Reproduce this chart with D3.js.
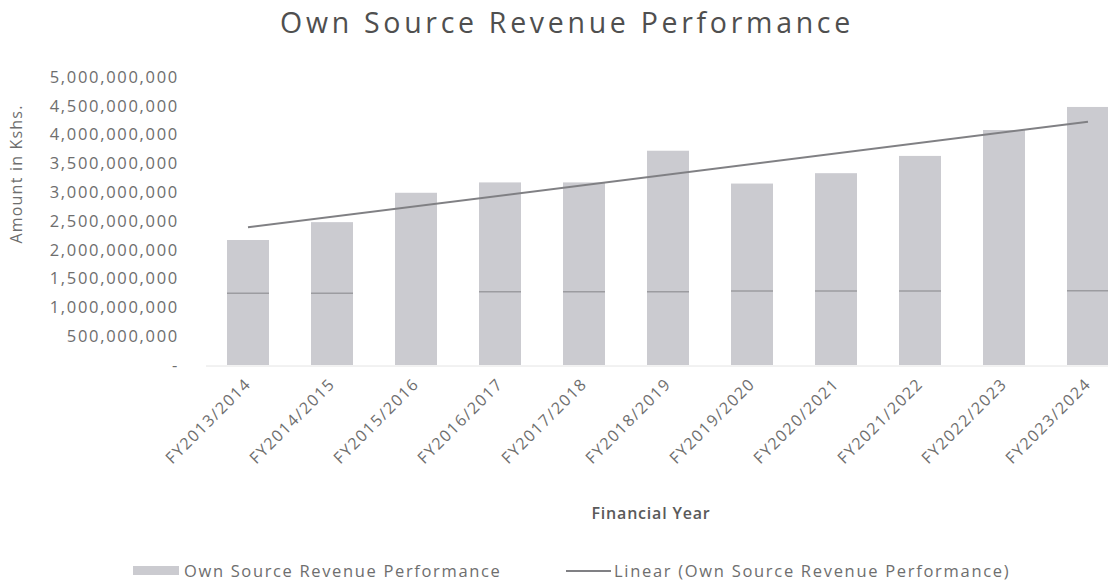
<!DOCTYPE html>
<html>
<head>
<meta charset="utf-8">
<script src="https://cdn.jsdelivr.net/npm/d3@7"></script>
<style>
  html, body { margin: 0; padding: 0; background: #fff; }
  svg { display: block; font-family: "Open Sans", "Noto Sans", sans-serif; }
</style>
</head>
<body>
<svg id="chart" width="1108" height="581"></svg>
<script>
// ---- Data ----
const categories = ["FY2013/2014","FY2014/2015","FY2015/2016","FY2016/2017","FY2017/2018",
  "FY2018/2019","FY2019/2020","FY2020/2021","FY2021/2022","FY2022/2023","FY2023/2024"];
const revenue = [2170000000, 2480000000, 2990000000, 3170000000, 3170000000,
  3720000000, 3150000000, 3330000000, 3630000000, 4080000000, 4480000000];
// faint horizontal marks visible inside most bars of the scanned original
const innerMarks = [1245000000, 1245000000, null, 1270000000, 1270000000,
  1270000000, 1285000000, 1285000000, 1285000000, null, 1290000000];
const yTicks = [0, 500000000, 1000000000, 1500000000, 2000000000, 2500000000,
  3000000000, 3500000000, 4000000000, 4500000000, 5000000000];
const titleText = "Own Source Revenue Performance";
const yTitle = "Amount in Kshs.";
const xTitle = "Financial Year";
const legendBar = "Own Source Revenue Performance";
const legendLine = "Linear (Own Source Revenue Performance)";

// ---- Layout ----
const svg = d3.select("#chart");
const plotTop = 77, plotBottom = 365;
const x = d3.scaleBand().domain(categories).range([206, 1130]).paddingInner(0.5).paddingOuter(0.25);
const y = d3.scaleLinear().domain([0, 5000000000]).range([plotBottom, plotTop]);

const textColor = "#6e6e6e";
const barColor = "#cbcbd0";

// Title
svg.append("text").attr("x", 567).attr("y", 33).attr("text-anchor", "middle")
  .attr("font-size", 28.5).attr("letter-spacing", 3.7).attr("fill", "#4f4f4f").text(titleText);

// Y axis
const fmt = d => d === 0 ? "-" : d3.format(",")(d);
const yAxis = d3.axisLeft(y).tickValues(yTicks).tickFormat(fmt).tickSize(0).tickPadding(0);
const gy = svg.append("g").attr("transform", "translate(179,0)").call(yAxis);
gy.select(".domain").remove();
gy.selectAll("text").attr("font-size", 16.5).attr("letter-spacing", 1.7)
  .attr("fill", textColor).attr("font-family", "'Open Sans', sans-serif");

// Y title
svg.append("text").attr("transform", "translate(22,174) rotate(-90)").attr("text-anchor", "middle")
  .attr("font-size", 16).attr("letter-spacing", 1.2).attr("fill", textColor).text(yTitle);

// Axis baseline (faint)
svg.append("line").attr("x1", 206).attr("x2", 1108).attr("y1", y(0) + 1).attr("y2", y(0) + 1)
  .attr("stroke", "#e4e4e4").attr("stroke-width", 1);

// Bars
svg.append("g").selectAll("rect").data(categories).join("rect")
  .attr("x", d => x(d)).attr("width", x.bandwidth())
  .attr("y", (d, i) => y(revenue[i])).attr("height", (d, i) => y(0) - y(revenue[i]))
  .attr("fill", barColor);

// Inner marks
svg.append("g").selectAll("line").data(categories.filter((d, i) => innerMarks[i] != null)).join("line")
  .attr("x1", d => x(d)).attr("x2", d => x(d) + x.bandwidth())
  .attr("y1", d => y(innerMarks[categories.indexOf(d)]))
  .attr("y2", d => y(innerMarks[categories.indexOf(d)]))
  .attr("stroke", "#9c9ca0").attr("stroke-width", 1.5);

// Linear trendline (least squares)
const n = revenue.length;
const xs = d3.range(n);
const mx = d3.mean(xs), my = d3.mean(revenue);
const slope = d3.sum(xs, i => (i - mx) * (revenue[i] - my)) / d3.sum(xs, i => (i - mx) ** 2);
const intercept = my - slope * mx;
const trend = [0, n - 1].map(i => [x(categories[i]) + x.bandwidth() / 2, y(intercept + slope * i)]);
svg.append("path").attr("d", d3.line()(trend)).attr("fill", "none")
  .attr("stroke", "#808084").attr("stroke-width", 2);

// X axis labels
const xAxis = d3.axisBottom(x).tickSize(0).tickPadding(0);
const gx = svg.append("g").attr("transform", `translate(0,${plotBottom})`).call(xAxis);
gx.select(".domain").remove();
gx.selectAll("text").attr("font-size", 16).attr("letter-spacing", 1.5)
  .attr("fill", textColor).attr("font-family", "'Open Sans', sans-serif")
  .attr("text-anchor", "end").attr("dy", "0")
  .attr("transform", "translate(4,20) rotate(-45)");

// X title
svg.append("text").attr("x", 651).attr("y", 519).attr("text-anchor", "middle")
  .attr("font-size", 16).attr("font-weight", 600).attr("letter-spacing", 0.8)
  .attr("fill", "#5a5a5a").text(xTitle);

// Legend
const ly = 571;
svg.append("rect").attr("x", 133).attr("y", ly - 5).attr("width", 46).attr("height", 9).attr("fill", barColor);
svg.append("text").attr("x", 184).attr("y", ly + 6).attr("font-size", 16.5).attr("letter-spacing", 1.65)
  .attr("fill", textColor).text(legendBar);
svg.append("line").attr("x1", 566).attr("x2", 611).attr("y1", ly).attr("y2", ly)
  .attr("stroke", "#808084").attr("stroke-width", 2);
svg.append("text").attr("x", 614).attr("y", ly + 6).attr("font-size", 16.5).attr("letter-spacing", 1.7)
  .attr("fill", textColor).text(legendLine);
</script>
</body>
</html>
